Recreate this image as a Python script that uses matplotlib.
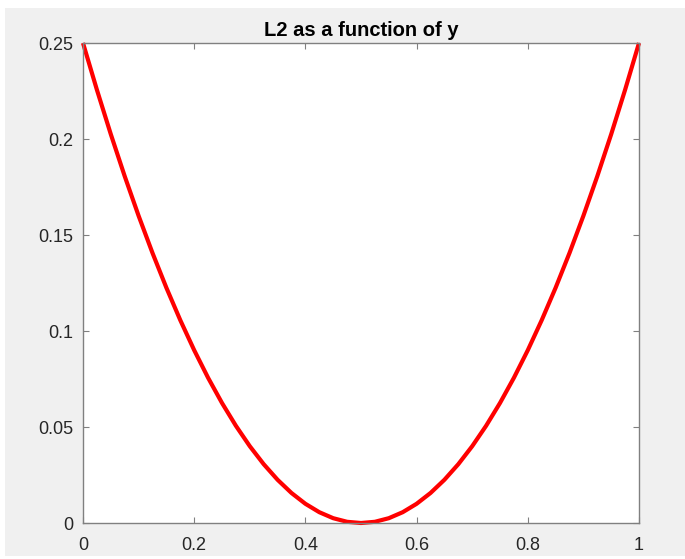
import matplotlib.pyplot as plt
from matplotlib.patches import Rectangle

# Values
y_vals = [0.0, 0.025, 0.05, 0.075, 0.1, 0.125, 0.15, 0.175, 0.2, 0.225,
          0.25, 0.275, 0.3, 0.325, 0.35, 0.375, 0.4, 0.425, 0.45, 0.475,
          0.5, 0.525, 0.55, 0.575, 0.6, 0.625, 0.65, 0.675, 0.7, 0.725,
          0.75, 0.775, 0.8, 0.825, 0.85, 0.875, 0.9, 0.925, 0.95, 0.975, 1.0]
l2_vals = [0.25, 0.225625, 0.2025, 0.180625, 0.16, 0.140625, 0.1225, 0.105625,
           0.09, 0.075625, 0.0625, 0.050625, 0.04, 0.030625, 0.0225, 0.015625,
           0.01, 0.005625, 0.0025, 0.000625, 0.0, 0.000625, 0.0025, 0.005625,
           0.01, 0.015625, 0.0225, 0.030625, 0.04, 0.050625, 0.0625, 0.075625,
           0.09, 0.105625, 0.1225, 0.140625, 0.16, 0.180625, 0.2025, 0.225625, 0.25]

x_ticks = [0, 0.2, 0.4, 0.6, 0.8, 1]
x_labels = ["0", "0.2", "0.4", "0.6", "0.8", "1"]
y_ticks = [0, 0.05, 0.1, 0.15, 0.2, 0.25]
y_labels = ["0", "0.05", "0.1", "0.15", "0.2", "0.25"]

plt.rcParams['font.family'] = ['Liberation Sans', 'DejaVu Sans']

W, H = 685, 559
fig = plt.figure(figsize=(W / 100, H / 100), dpi=100, facecolor="white")

# grey figure panel (screenshot has a thin white margin)
fig.patches.append(Rectangle((5 / W, 3 / H), (W - 5) / W, (H - 11) / H,
                             transform=fig.transFigure, facecolor="#f0f0f0",
                             edgecolor="none", zorder=-1))

ax = fig.add_axes([83 / W, 1 - 523 / H, (639 - 83) / W, (523 - 43) / H])
ax.set_facecolor("white")

ax.plot(y_vals, l2_vals, color="red", linewidth=3, solid_capstyle="butt",
        solid_joinstyle="round", clip_on=False)

ax.set_xlim(0, 1)
ax.set_ylim(0, 0.25)
ax.set_xticks(x_ticks)
ax.set_xticklabels(x_labels)
ax.set_yticks(y_ticks)
ax.set_yticklabels(y_labels)

for s in ax.spines.values():
    s.set_color("#808080")
    s.set_linewidth(1.0)

ax.tick_params(direction="in", top=True, right=True, length=4, width=0.8,
               color="#808080", labelsize=13, labelcolor="#262626")
ax.tick_params(axis="x", pad=10)
ax.tick_params(axis="y", pad=7)

ax.set_title("L2 as a function of y", fontsize=14.5, fontweight="bold", pad=5)

fig.savefig("out.png", dpi=100, facecolor=fig.get_facecolor())
